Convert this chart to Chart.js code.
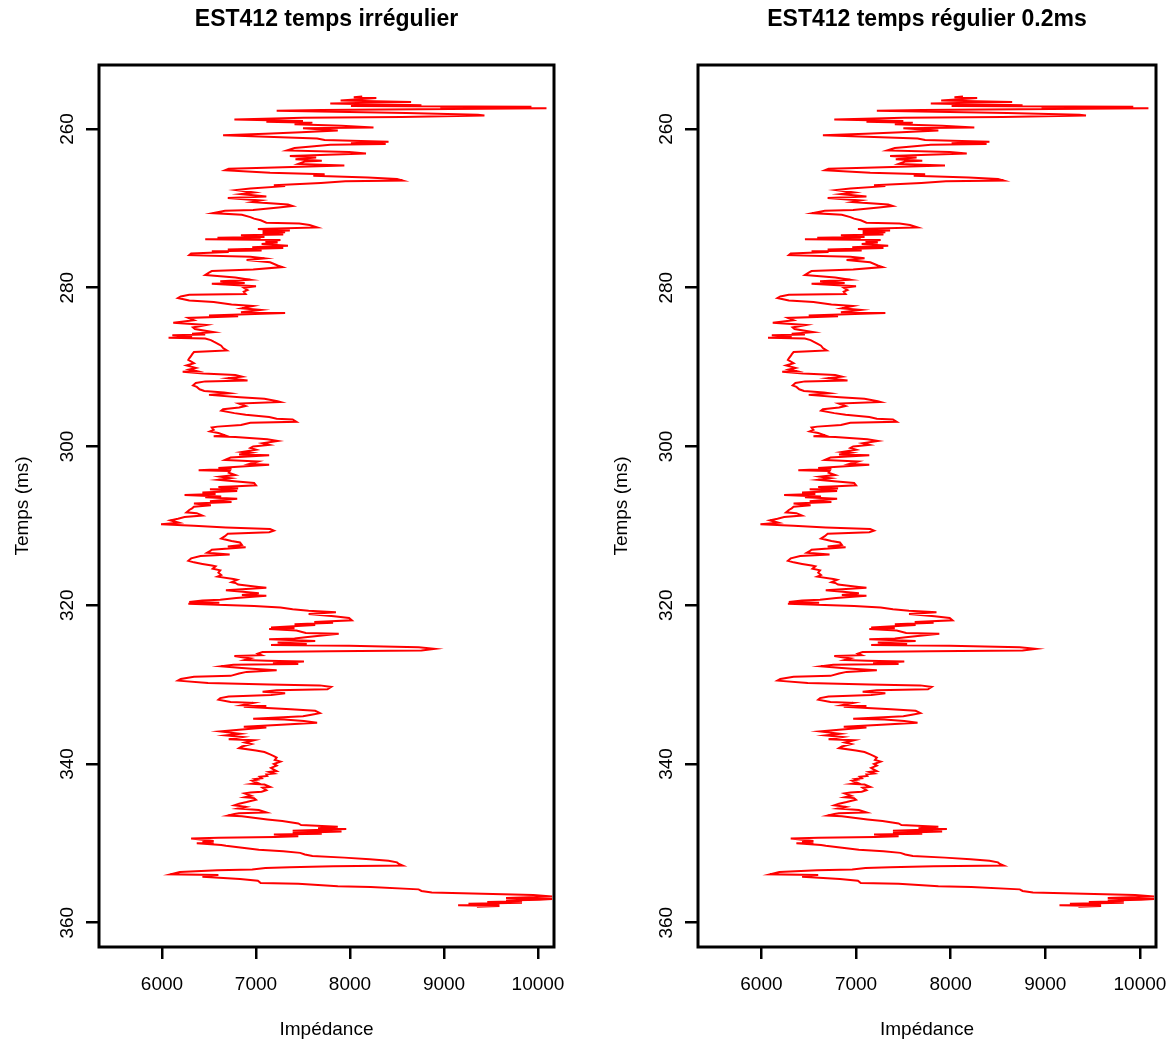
<!DOCTYPE html>
<html lang="fr">
<head>
<meta charset="utf-8">
<title>EST412 - impédance</title>
<script src="https://cdn.jsdelivr.net/npm/chart.js@4.4.1/dist/chart.umd.min.js"></script>
<style>
  html, body { margin: 0; padding: 0; background: #fff; }
  #page { position: relative; width: 1169px; height: 1043px; }
  .panneau { position: absolute; top: 0; }
  #p1 { left: 0; }
  #p2 { left: 599px; }
</style>
</head>
<body>
<div id="page">
  <div class="panneau" id="p1"><canvas id="c1" width="599" height="1043"></canvas></div>
  <div class="panneau" id="p2"><canvas id="c2" width="570" height="1043"></canvas></div>
</div>
<script>
// --- Données (temps en ms, impédance) ---
const temps = [
  255.9, 256.0, 256.1, 256.4, 256.6, 256.8, 257.0, 257.1, 257.2, 257.3,
  257.4, 257.6, 257.7, 258.0, 258.2, 258.3, 258.5, 258.6, 258.8, 259.0,
  259.1, 259.2, 259.4, 259.6, 259.8, 259.9, 260.2, 260.4, 260.6, 260.8,
  261.0, 261.2, 261.4, 261.6, 261.8, 261.9, 262.0, 262.2, 262.4, 262.7,
  262.9, 263.1, 263.4, 263.6, 263.8, 264.0, 264.1, 264.4, 264.6, 264.9,
  265.0, 265.2, 265.5, 265.7, 265.9, 266.1, 266.3, 266.5, 266.6, 266.8,
  267.1, 267.2, 267.5, 267.7, 268.0, 268.2, 268.5, 268.7, 269.0, 269.2,
  269.5, 269.7, 269.9, 270.2, 270.3, 270.6, 270.8, 271.1, 271.3, 271.5,
  271.8, 271.9, 272.1, 272.4, 272.6,
  272.8, 272.9, 273.0, 273.1, 273.3, 273.4, 273.6, 273.7, 273.8, 273.9,
  274.0, 274.2, 274.3, 274.5, 274.7, 274.9, 275.0, 275.2, 275.3, 275.4,
  275.5, 275.7, 275.9, 276.1, 276.3, 276.5, 276.8, 277.2, 277.4, 277.7,
  277.9, 278.1, 278.4, 278.7, 279.0, 279.2, 279.4, 279.5, 279.8, 280.0,
  280.3, 280.5, 280.8, 280.9, 281.1, 281.3, 281.6, 281.8, 282.1, 282.3,
  282.6, 282.8, 283.1, 283.2, 283.5, 283.6, 283.8, 284.1, 284.4, 284.7,
  285.0, 285.2, 285.6, 285.8, 285.9, 286.0, 286.2, 286.3, 286.4, 286.6,
  286.8, 287.1, 287.3, 287.6, 287.9, 288.0, 288.1, 288.4, 288.6, 288.9,
  289.1,
  289.5, 289.8, 290.1, 290.3, 290.5, 290.6, 290.8, 291.0, 291.2, 291.4,
  291.7, 291.8, 292.0, 292.3, 292.5, 292.8, 293.0, 293.2, 293.3, 293.5,
  293.8, 294.0, 294.3, 294.4, 294.6, 294.9, 295.1, 295.3, 295.5, 295.8,
  296.0, 296.3, 296.5, 296.6, 296.9, 297.0, 297.3, 297.5, 297.6, 297.9,
  298.1, 298.3, 298.6, 298.7, 298.8, 299.1, 299.3, 299.6, 299.8, 300.0,
  300.2, 300.4, 300.7, 300.8, 301.0, 301.1, 301.4, 301.7, 301.9, 302.2,
  302.3, 302.7, 302.8, 303.0, 303.1, 303.3, 303.6, 303.8, 304.0, 304.2,
  304.4, 304.6, 304.9, 305.0, 305.1, 305.3, 305.4, 305.6, 305.8, 306.0,
  306.1, 306.3, 306.4, 306.6, 306.9, 307.0, 307.2, 307.4, 307.6, 307.8,
  308.0, 308.3, 308.4, 308.7, 308.9, 309.1, 309.3, 309.6, 309.8, 310.0,
  310.2, 310.4, 310.6, 310.8, 311.0, 311.3, 311.6, 311.9, 312.1, 312.4,
  312.6, 312.7, 313.0, 313.2, 313.4, 313.6, 313.8, 314.1, 314.4, 314.6,
  314.8, 315.0, 315.1, 315.4, 315.6, 315.9, 316.2, 316.4, 316.7, 316.8,
  317.1, 317.2, 317.4, 317.7, 317.8, 318.1, 318.3, 318.5, 318.7, 318.8,
  319.1, 319.3, 319.4, 319.6, 319.7, 319.8, 320.1, 320.3, 320.5, 320.7,
  320.9, 321.1, 321.4, 321.6, 321.9, 322.1, 322.2, 322.4, 322.5, 322.8,
  322.9, 323.0, 323.2, 323.5, 323.6,
  324.0, 324.2, 324.3, 324.5, 324.7, 324.9, 325.0, 325.1, 325.3, 325.5,
  325.7, 325.8, 325.9, 326.1, 326.3, 326.4, 326.7, 326.9, 327.0, 327.1,
  327.3, 327.4, 327.5, 327.7, 327.9, 328.0, 328.2, 328.4, 328.6, 328.9,
  329.0, 329.3, 329.5, 329.8, 330.0, 330.1, 330.3, 330.6, 330.7, 330.9,
  331.1, 331.3, 331.5, 331.7, 331.9, 332.2, 332.3, 332.6, 332.7, 332.8,
  333.1, 333.3, 333.6, 333.8, 334.0, 334.3, 334.4, 334.6, 334.8, 335.1,
  335.3, 335.4, 335.7, 335.9, 336.2, 336.4, 336.6, 336.9, 337.0, 337.3,
  337.5, 337.8, 338.0, 338.3, 338.5, 338.8, 339.0, 339.2, 339.5, 339.7,
  340.0, 340.2, 340.5,
  340.7, 340.9, 341.0, 341.2, 341.3, 341.5, 341.6, 341.8, 341.9, 342.0,
  342.1, 342.4, 342.5, 342.6, 342.9, 343.0, 343.3, 343.5, 343.6, 343.7,
  344.0, 344.2, 344.3, 344.5, 344.8, 345.0, 345.2, 345.4, 345.6, 345.8,
  346.1, 346.2, 346.3, 346.5, 346.6, 347.0, 347.2, 347.5, 347.7, 347.9,
  348.1, 348.2, 348.4, 348.5, 348.7, 348.8, 348.9, 349.1, 349.2, 349.3,
  349.4, 349.7, 349.8, 349.9, 350.0, 350.2, 350.3, 350.5, 350.8, 351.0,
  351.2, 351.4, 351.6, 351.8, 352.0, 352.2, 352.4, 352.6, 352.8, 352.9,
  353.0, 353.1, 353.3, 353.4, 353.6, 353.9, 354.0, 354.2, 354.5, 354.7,
  355.0, 355.1, 355.4, 355.5, 355.8, 356.0, 356.2, 356.5, 356.7, 356.9,
  357.0, 357.1, 357.2, 357.3, 357.4, 357.5, 357.6, 357.7, 357.8, 357.9,
  358.0
];

const impedance = [
  8130, 8040, 8280, 7900, 8650, 7790, 8760, 8010, 9930, 8960,
  10090, 7700, 7220, 8600, 9360, 9430, 8550, 7500, 6770, 7500,
  7110, 7600, 7410, 7910, 8250, 7500, 7870, 7480, 7100, 6650,
  7190, 7650, 7730, 8410, 8010, 8380, 7790, 7590, 7410, 7330,
  7990, 8170, 7360, 7640, 7420, 7700, 7520, 7450, 7940, 7100,
  6710, 6670, 7150, 7730, 7610, 8190, 8500, 8560, 7950, 7690,
  7190, 7310, 6940, 6790, 6980, 6840, 7110, 6700, 7050, 6960,
  7340, 7390, 7240, 6970, 6670, 6540, 6850, 6940, 6980, 7050,
  7110, 7460, 7570, 7650, 7020,
  7360, 7070, 7310, 7070, 7290, 6840, 7090, 6590, 7050, 6460,
  7260, 7100, 7230, 7060, 7340, 6960, 7290, 6700, 7060, 6530,
  6710, 6310, 6290, 6940, 7090, 6900, 7150, 7230, 7280, 6970,
  6530, 6500, 6460, 6780, 6940, 6620, 6880, 6530, 7000, 6870,
  6910, 6870, 6890, 6290, 6200, 6170, 6290, 6550, 6740, 6970,
  6850, 7050, 6840, 7310, 6500, 6810, 6280, 6340, 6120, 6470,
  6330, 6350, 6550, 6320, 6460, 6110, 6320, 6070, 6460, 6520,
  6550, 6600, 6630, 6650, 6690, 6510, 6340, 6320, 6310, 6290,
  6280,
  6340, 6260, 6360, 6290, 6370, 6220, 6440, 6780, 6850, 6700,
  6910, 6460, 6360, 6330, 6370, 6400, 6450, 6660, 6720, 6500,
  6830, 7090, 7230, 7260, 6820, 6890, 6820, 6650, 6630, 6770,
  6890, 7140, 7220, 7390, 7430, 6940, 6840, 6590, 6530, 6550,
  6510, 6600, 6670, 6550, 6780, 7120, 7230, 7070, 7140, 6970,
  6940, 7000, 6850, 6940, 6820, 7140, 6730, 6670, 7020, 6930,
  7140, 6600, 6740, 6390, 6720, 6710, 6780, 6620, 6730, 6600,
  6800, 6980, 7000, 6800, 6600, 6810, 6510, 6800, 6430, 6570,
  6240, 6630, 6460, 6800, 6510, 6740, 6340, 6520, 6340, 6320,
  6290, 6260, 6370, 6430, 6240, 6170, 6090, 6180, 5990, 6340,
  6680, 7150, 7190, 7140, 6700, 6670, 6630, 6740, 6830, 6850,
  6700, 6890, 6530, 6510, 6480, 6720, 6410, 6310, 6280, 6340,
  6430, 6530, 6570, 6540, 6620, 6600, 6630, 6590, 6760, 6800,
  6740, 6780, 6810, 7030, 7110, 6680, 6860, 7030, 6850, 7110,
  6790, 6620, 6430, 6290, 6610, 6280, 6980, 7260, 7390, 7560,
  7850, 7560, 7830, 7990, 8020, 7620, 7820, 7410, 7630, 7160,
  7410, 7140, 7430, 7530, 7880,
  7550, 7410, 7140, 7630, 7230, 7540, 7160, 7990, 8730, 8900,
  8760, 7780, 7070, 7020, 7060, 6770, 6940, 6880, 7120, 7510,
  7180, 7450, 6760, 6630, 6850, 6960, 7220, 6900, 6820, 6730,
  6340, 6200, 6170, 6490, 7140, 7680, 7800, 7760, 7220, 7070,
  7310, 7160, 6710, 6620, 6600, 6730, 6970, 6850, 7110, 6870,
  7370, 7630, 7680, 7590, 7500, 6970, 7300, 7510, 7650, 7220,
  6870, 7110, 6820, 6620, 6830, 6680, 6860, 6710, 6980, 6880,
  6950, 6850, 6820, 7000, 7090, 7150, 7190, 7220, 7200, 7260,
  7190, 7220, 7160,
  7190, 7220, 7140, 7190, 7110, 7120, 7040, 7060, 6990, 7010,
  6960, 7020, 6960, 7090, 7150, 7070, 7110, 7060, 6940, 6880,
  6950, 6880, 6980, 7000, 6900, 6820, 6770, 6890, 6810, 7030,
  7110, 6820, 6770, 6700, 6850, 7120, 7280, 7450, 7480, 7870,
  7660, 7960, 7390, 7910, 7390, 7700, 7190, 7450, 7200, 6600,
  6310, 6550, 6430, 6550, 6370, 6630, 6680, 6810, 7030, 7290,
  7470, 7520, 7600, 7940, 8210, 8410, 8500, 8520, 8560, 7820,
  7360, 7100, 6960, 6590, 6190, 6090, 6600, 6430, 6830, 7020,
  7050, 7450, 7870, 8220, 8730, 8760, 8870, 9950, 10150, 9660,
  10150, 10010, 9660, 9830, 9460, 9830, 9260, 9590, 9150, 9590,
  9350
];

const ticksTemps = [260, 280, 300, 320, 340, 360];
const ticksImpedance = [6000, 7000, 8000, 9000, 10000];
const titres = ['EST412 temps irrégulier', 'EST412 temps régulier 0.2ms'];

Chart.defaults.font.family = "'Liberation Sans', Arial, sans-serif";
Chart.defaults.color = '#000';

// Cadre noir autour de la zone du graphique (comme box() de R)
const cadre = {
  id: 'cadre',
  afterDatasetsDraw(chart) {
    const { ctx, chartArea: a } = chart;
    ctx.save();
    ctx.strokeStyle = '#000';
    ctx.lineWidth = 3;
    ctx.strokeRect(a.left, a.top, a.right - a.left, a.bottom - a.top);
    ctx.restore();
  }
};

// 1. UN PANNEAU : impédance (x) en fonction du temps (y, inversé)
function dessinerPanneau(idCanvas, titre, margeDroite) {
  const ctx = document.getElementById(idCanvas).getContext('2d');
  const points = temps.map((t, i) => ({ x: impedance[i], y: t }));

  return new Chart(ctx, {
    type: 'line',
    data: {
      datasets: [{
        data: points,
        borderColor: '#ff0000',
        borderWidth: 2,
        pointRadius: 0,
        tension: 0,
        fill: false
      }]
    },
    options: {
      responsive: false,
      animation: false,
      layout: { padding: { left: 0, right: margeDroite, top: 0, bottom: 0 } },
      plugins: {
        legend: { display: false },
        tooltip: { enabled: false },
        title: {
          display: true,
          text: titre,
          fullSize: false,
          color: '#000',
          font: { size: 23, weight: 'bold' },
          padding: { top: 6, bottom: 31.4 }
        }
      },
      scales: {
        x: {
          type: 'linear',
          min: 5330,
          max: 10170,
          afterBuildTicks: s => { s.ticks = ticksImpedance.map(v => ({ value: v })); },
          afterFit: s => { s.height = 96; s.paddingLeft = 0; s.paddingRight = 0; },
          ticks: { autoSkip: false, maxRotation: 0, padding: 14, font: { size: 19 }, callback: v => String(v) },
          grid: { drawOnChartArea: false, drawTicks: true, tickLength: 12, color: '#000', lineWidth: 2.5 },
          border: { display: false },
          title: { display: true, text: 'Impédance', font: { size: 19 }, padding: { top: 0, bottom: 2 } }
        },
        y: {
          type: 'linear',
          reverse: true,
          min: 251.94,
          max: 363.06,
          afterBuildTicks: s => { s.ticks = ticksTemps.map(v => ({ value: v })); },
          afterFit: s => { s.width = 99; s.paddingTop = 0; s.paddingBottom = 0; },
          ticks: { autoSkip: false, minRotation: 90, maxRotation: 90, crossAlign: 'center', padding: 2, font: { size: 19 } },
          grid: { drawOnChartArea: false, drawTicks: true, tickLength: 13, color: '#000', lineWidth: 2.5 },
          border: { display: false },
          title: { display: true, text: 'Temps (ms)', font: { size: 19 }, padding: { top: 11, bottom: 0 } }
        }
      }
    },
    plugins: [cadre]
  });
}

// --- LANCEMENT ---
dessinerPanneau('c1', titres[0], 45);
dessinerPanneau('c2', titres[1], 13);
</script>
</body>
</html>
